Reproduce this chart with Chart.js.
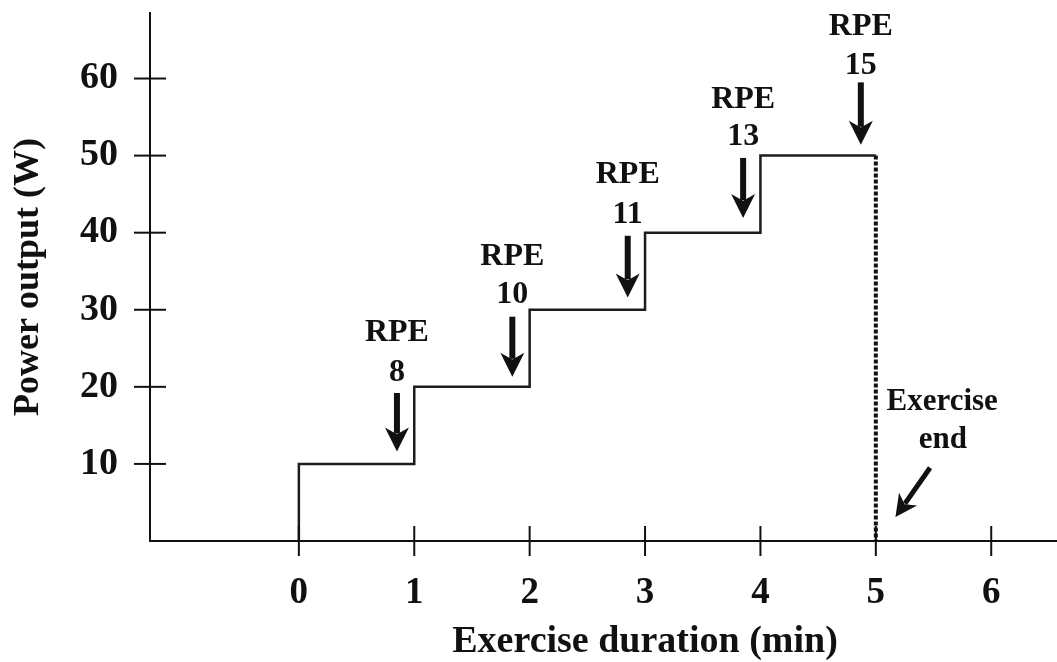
<!DOCTYPE html>
<html>
<head>
<meta charset="utf-8">
<script src="https://cdn.jsdelivr.net/npm/chart.js@4.4.0/dist/chart.umd.min.js"></script>
<style>
  html, body { margin: 0; padding: 0; background: #fff; }
  canvas { display: block; }
</style>
</head>
<body>
<canvas id="myChart" width="1057" height="662"></canvas>
<script>
// incremental test: stage start (min) and power (W)
const stageStartMin = [0, 1, 2, 3, 4];
const stageWatts = [10, 20, 30, 40, 50];
const exerciseEndMin = 5;

const xTicks = [0, 1, 2, 3, 4, 5, 6];
const yTicks = [10, 20, 30, 40, 50, 60];

// RPE reported near the end of each stage
const rpeValues = ['8', '10', '11', '13', '15'];
const rpeAtMin = [0.85, 1.85, 2.85, 3.85, 4.87];

// arrow / label placement in data units
const rpeArrowTop = [19.2, 29.1, 39.6, 49.7, 59.5];
const rpeArrowTip = [11.6, 21.3, 31.6, 41.9, 51.4];
const rpeTextY = [27.0, 36.9, 47.5, 57.3, 66.7];
const rpeNumY = [21.8, 31.9, 42.3, 52.5, 61.6];

const ink = '#111';
const serif = '"Liberation Serif", "Times New Roman", serif';
Chart.defaults.font.family = serif;
Chart.defaults.color = ink;

// staircase points
const steps = [{ x: stageStartMin[0], y: 0 }];
stageStartMin.forEach((m, i) => steps.push({ x: m, y: stageWatts[i] }));
steps.push({ x: exerciseEndMin, y: stageWatts[stageWatts.length - 1] });

const endLine = [
    { x: exerciseEndMin, y: stageWatts[stageWatts.length - 1] },
    { x: exerciseEndMin, y: 0 }
];

function arrow(ctx, x1, y1, x2, y2, w, head) {
    const a = Math.atan2(y2 - y1, x2 - x1);
    const bx = x2 - Math.cos(a) * head * 0.75;
    const by = y2 - Math.sin(a) * head * 0.75;
    ctx.save();
    ctx.strokeStyle = ink;
    ctx.fillStyle = ink;
    ctx.lineWidth = w;
    ctx.beginPath();
    ctx.moveTo(x1, y1);
    ctx.lineTo(bx, by);
    ctx.stroke();
    ctx.translate(x2, y2);
    ctx.rotate(a);
    ctx.beginPath();
    ctx.moveTo(0, 0);
    ctx.lineTo(-head, -head * 0.5);
    ctx.lineTo(-head * 0.72, 0);
    ctx.lineTo(-head, head * 0.5);
    ctx.closePath();
    ctx.fill();
    ctx.restore();
}

const extras = {
    id: 'extras',
    afterDatasetsDraw(chart) {
        const { ctx, chartArea, scales: { x, y } } = chart;
        ctx.save();
        // tick marks crossing the axes
        ctx.strokeStyle = ink;
        ctx.lineWidth = 2;
        x.ticks.forEach(t => {
            const px = x.getPixelForValue(t.value);
            ctx.beginPath();
            ctx.moveTo(px, chartArea.bottom + 15);
            ctx.lineTo(px, chartArea.bottom - 15);
            ctx.stroke();
        });
        y.ticks.forEach(t => {
            const py = y.getPixelForValue(t.value);
            ctx.beginPath();
            ctx.moveTo(chartArea.left - 16, py);
            ctx.lineTo(chartArea.left + 16, py);
            ctx.stroke();
        });

        // x axis title, centred under the 3 min tick like the original
        ctx.fillStyle = ink;
        ctx.textAlign = 'center';
        ctx.textBaseline = 'middle';
        ctx.font = 'bold 38px ' + serif;
        ctx.fillText('Exercise duration (min)', x.getPixelForValue(3), chartArea.bottom + 101);

        // RPE arrows and labels
        ctx.font = 'bold 32px ' + serif;
        rpeValues.forEach((v, i) => {
            const px = x.getPixelForValue(rpeAtMin[i]);
            arrow(ctx, px, y.getPixelForValue(rpeArrowTop[i]), px, y.getPixelForValue(rpeArrowTip[i]), 6, 24);
            ctx.fillText('RPE', px, y.getPixelForValue(rpeTextY[i]));
            ctx.fillText(v, px, y.getPixelForValue(rpeNumY[i]));
        });

        // exercise end note
        ctx.font = 'bold 31px ' + serif;
        ctx.fillText('Exercise', x.getPixelForValue(5.575), y.getPixelForValue(18.05));
        ctx.fillText('end', x.getPixelForValue(5.58), y.getPixelForValue(13.1));
        arrow(ctx, x.getPixelForValue(5.47), y.getPixelForValue(9.5),
            x.getPixelForValue(5.17), y.getPixelForValue(3.1), 5, 22);
        ctx.restore();
    }
};

new Chart(document.getElementById('myChart'), {
    type: 'scatter',
    data: {
        datasets: [
            {
                data: steps,
                showLine: true,
                stepped: true,
                borderColor: '#1c1c1c',
                borderWidth: 2.5,
                pointRadius: 0
            },
            {
                data: endLine,
                showLine: true,
                borderColor: ink,
                borderWidth: 4,
                borderDash: [4, 2],
                pointRadius: 0
            }
        ]
    },
    options: {
        responsive: false,
        animation: false,
        devicePixelRatio: 1,
        layout: { padding: { top: 13, right: 0, left: 0, bottom: 0 } },
        plugins: { legend: { display: false }, tooltip: { enabled: false } },
        scales: {
            x: {
                type: 'linear',
                min: -1.29,
                max: 6.57,
                afterBuildTicks: s => { s.ticks = xTicks.map(v => ({ value: v })); },
                afterFit: s => { s.height = 121; s.paddingLeft = 0; s.paddingRight = 0; },
                ticks: {
                    stepSize: 1,
                    maxRotation: 0,
                    autoSkip: false,
                    padding: 22,
                    color: ink,
                    font: { size: 37, weight: 'bold' }
                },
                grid: { display: false },
                border: { display: true, color: ink, width: 2 },
                title: { display: false }
            },
            y: {
                min: 0,
                max: 68.5,
                afterBuildTicks: s => { s.ticks = yTicks.map(v => ({ value: v })); },
                afterFit: s => { s.width = 150; s.paddingTop = 0; s.paddingBottom = 0; },
                ticks: {
                    stepSize: 10,
                    padding: 24,
                    color: ink,
                    font: { size: 38, weight: 'bold' }
                },
                grid: { display: false },
                border: { display: true, color: ink, width: 2 },
                title: {
                    display: true,
                    text: 'Power output (W)',
                    color: ink,
                    font: { size: 36, weight: 'bold' },
                    padding: { top: 7, bottom: 0 }
                }
            }
        }
    },
    plugins: [extras]
});
</script>
</body>
</html>
